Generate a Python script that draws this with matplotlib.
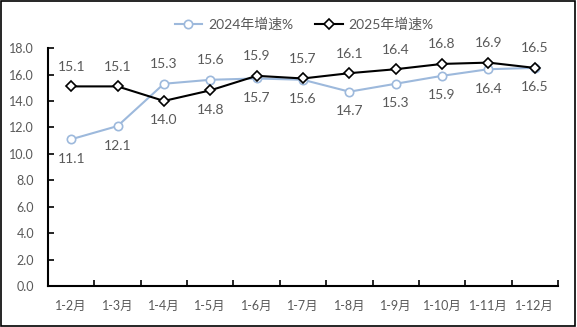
import matplotlib.pyplot as plt
from matplotlib.patches import Rectangle

plt.rcParams['font.family'] = ['Lato', 'Noto Sans CJK SC', 'DejaVu Sans']

months = ["1-2月", "1-3月", "1-4月", "1-5月", "1-6月", "1-7月",
          "1-8月", "1-9月", "1-10月", "1-11月", "1-12月"]
growth_2024 = [11.1, 12.1, 15.3, 15.6, 15.7, 15.6, 14.7, 15.3, 15.9, 16.4, 16.5]
growth_2025 = [15.1, 15.1, 14.0, 14.8, 15.9, 15.7, 16.1, 16.4, 16.8, 16.9, 16.5]
# label side for each point: 1 above, -1 below
side_2024 = [-1, -1, 1, 1, -1, -1, -1, -1, -1, -1, -1]
side_2025 = [1, 1, -1, -1, 1, 1, 1, 1, 1, 1, 1]

text_color = "#595959"
blue = "#9DB9DC"

fig = plt.figure(figsize=(5.77, 3.27), dpi=100)
ax = fig.add_axes([0.0832, 0.1254, 0.8838, 0.7276])

x = list(range(len(months)))
ax.plot(x, growth_2024, color=blue, lw=1.5, marker="o", ms=6,
        mfc="white", mec=blue, mew=1.2, label="2024年增速%")
ax.plot(x, growth_2025, color="black", lw=1.5, marker="D", ms=5,
        mfc="white", mec="black", mew=1.2, label="2025年增速%")

for xi, v, s in zip(x, growth_2024, side_2024):
    ax.annotate(f"{v:.1f}", (xi, v), xytext=(0, 14 * s), textcoords="offset points",
                ha="center", va="center", fontsize=10, color=text_color)
for xi, v, s in zip(x, growth_2025, side_2025):
    ax.annotate(f"{v:.1f}", (xi, v), xytext=(0, 14 * s), textcoords="offset points",
                ha="center", va="center", fontsize=10, color=text_color)

ax.set_xlim(-0.5, len(months) - 0.5)
ax.set_ylim(0, 18)
ax.set_yticks([i * 2.0 for i in range(10)])
ax.set_yticklabels([f"{i * 2.0:.1f}" for i in range(10)])
ax.set_xticks(x)
ax.set_xticklabels(months)
ax.set_xticks([i - 0.5 for i in range(len(months) + 1)], minor=True)
ax.tick_params(axis="x", which="major", length=0, pad=10, labelsize=9, labelcolor=text_color)
ax.tick_params(axis="x", which="minor", direction="in", length=4, width=1.2)
ax.tick_params(axis="y", direction="in", length=4, width=1.2, pad=10,
               labelsize=9, labelcolor=text_color)

for side in ("top", "right"):
    ax.spines[side].set_visible(False)
for side in ("left", "bottom"):
    ax.spines[side].set_linewidth(1.5)

fig.legend(loc="upper center", bbox_to_anchor=(0.527, 0.985), ncol=2, frameon=False,
           fontsize=10, labelcolor=text_color, handlelength=2.0, handletextpad=0.4,
           columnspacing=1.6)

fig.patches.append(Rectangle((0.002, 0.003), 0.994, 0.993, transform=fig.transFigure,
                             fill=False, edgecolor="black", lw=1.2))

fig.savefig("out.png", dpi=100)
